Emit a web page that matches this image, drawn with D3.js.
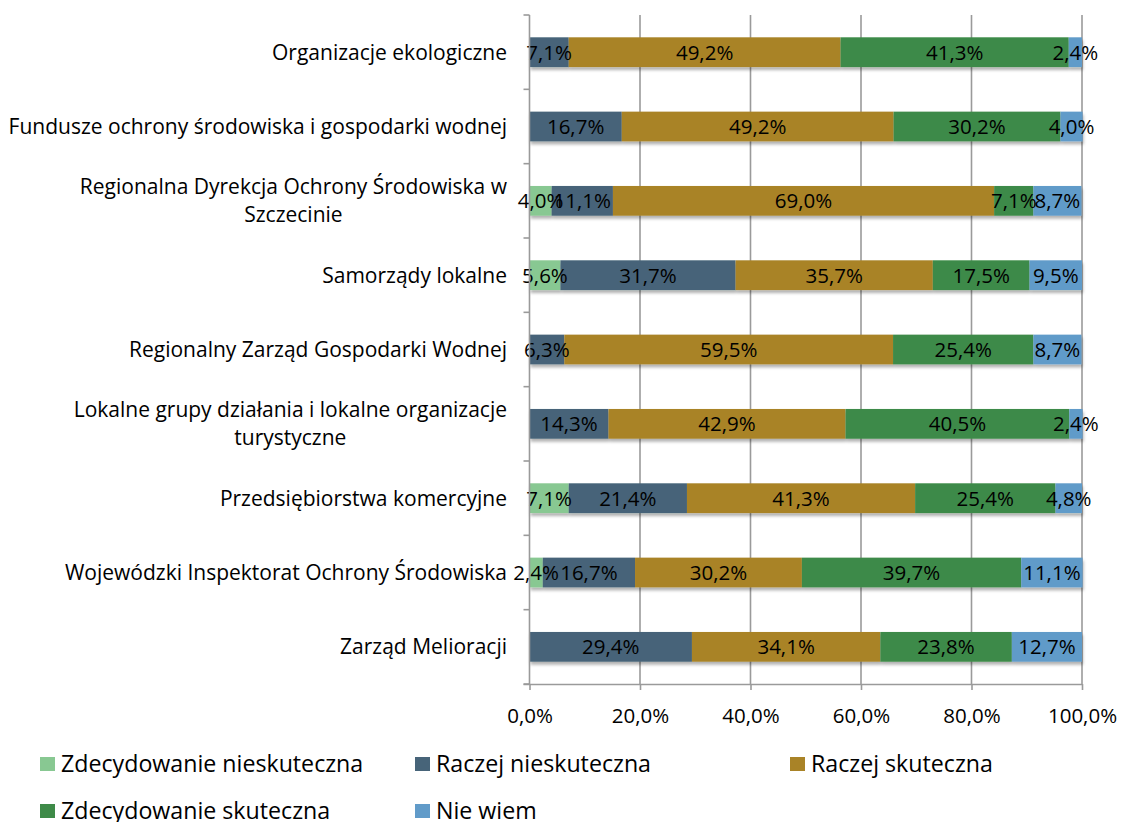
<!DOCTYPE html>
<html lang="pl">
<head>
<meta charset="utf-8">
<script src="https://cdn.jsdelivr.net/npm/d3@7"></script>
<style>
  html, body { margin: 0; padding: 0; background: #fff; }
  svg { display: block; font-family: "Open Sans", sans-serif; }
</style>
</head>
<body>
<svg id="chart" width="1121" height="822"></svg>
<script>
// Ocena skuteczności instytucji — odsetek odpowiedzi (%)
const categories = [
  "Organizacje ekologiczne",
  "Fundusze ochrony środowiska i gospodarki wodnej",
  "Regionalna Dyrekcja Ochrony Środowiska w Szczecinie",
  "Samorządy lokalne",
  "Regionalny Zarząd Gospodarki Wodnej",
  "Lokalne grupy działania i lokalne organizacje turystyczne",
  "Przedsiębiorstwa komercyjne",
  "Wojewódzki Inspektorat Ochrony Środowiska",
  "Zarząd Melioracji"
];

const seriesNames = [
  "Zdecydowanie nieskuteczna",
  "Raczej nieskuteczna",
  "Raczej skuteczna",
  "Zdecydowanie skuteczna",
  "Nie wiem"
];

const zdecydowanieNieskuteczna = [0, 0, 4.0, 5.6, 0, 0, 7.1, 2.4, 0];
const raczejNieskuteczna       = [7.1, 16.7, 11.1, 31.7, 6.3, 14.3, 21.4, 16.7, 29.4];
const raczejSkuteczna          = [49.2, 49.2, 69.0, 35.7, 59.5, 42.9, 41.3, 30.2, 34.1];
const zdecydowanieSkuteczna    = [41.3, 30.2, 7.1, 17.5, 25.4, 40.5, 25.4, 39.7, 23.8];
const nieWiem                  = [2.4, 4.0, 8.7, 9.5, 8.7, 2.4, 4.8, 11.1, 12.7];

const xTicks = [0, 20, 40, 60, 80, 100];

const colors = ["#88C892", "#476479", "#A98327", "#3E8A48", "#619BC9"];

// ---- assemble rows for the stack layout
const seriesValues = [zdecydowanieNieskuteczna, raczejNieskuteczna, raczejSkuteczna, zdecydowanieSkuteczna, nieWiem];
const rows = categories.map((c, i) => {
  const r = { category: c };
  seriesNames.forEach((s, k) => { r[s] = seriesValues[k][i]; });
  return r;
});
const stacked = d3.stack().keys(seriesNames)(rows);

const fmt = v => d3.format(".1f")(v).replace(".", ",") + "%";

const svg = d3.select("#chart");

const plot = { left: 529.5, right: 1082, top: 15, bottom: 684 };

const x = d3.scaleLinear().domain([0, 100]).range([plot.left, plot.right]);
const y = d3.scaleBand().domain(categories).range([plot.top, plot.bottom])
  .paddingInner(0.6).paddingOuter(0.3);

// soft shadow under the bars
const defs = svg.append("defs");
defs.append("filter").attr("id", "shadow")
  .attr("x", "-5%").attr("y", "-30%").attr("width", "110%").attr("height", "170%")
  .append("feDropShadow")
  .attr("dx", 1).attr("dy", 3).attr("stdDeviation", 1.8)
  .attr("flood-color", "#000").attr("flood-opacity", 0.3);

// vertical gridlines
svg.append("g").selectAll("line")
  .data(xTicks.filter(t => t > 0))
  .join("line")
  .attr("x1", d => x(d)).attr("x2", d => x(d))
  .attr("y1", plot.top).attr("y2", plot.bottom)
  .attr("stroke", "#9A9A9A").attr("stroke-width", 1.6);

// stacked bars
const barLayer = svg.append("g").attr("filter", "url(#shadow)");
stacked.forEach((layer, k) => {
  barLayer.append("g").attr("fill", colors[k])
    .selectAll("rect")
    .data(layer.filter(d => d[1] - d[0] > 0))
    .join("rect")
    .attr("x", d => x(d[0]))
    .attr("width", d => x(d[1]) - x(d[0]))
    .attr("y", d => y(d.data.category))
    .attr("height", y.bandwidth());
});

// value labels
const labelLayer = svg.append("g")
  .attr("font-size", 20.5).attr("fill", "#000").attr("text-anchor", "middle");
stacked.forEach(layer => {
  labelLayer.append("g").selectAll("text")
    .data(layer.filter(d => d[1] - d[0] > 0))
    .join("text")
    .attr("x", d => x((d[0] + d[1]) / 2))
    .attr("y", d => y(d.data.category) + y.bandwidth() / 2)
    .attr("dy", "0.36em")
    .text(d => fmt(d[1] - d[0]));
});

// x axis
const xAxis = svg.append("g")
  .attr("transform", `translate(0,${plot.bottom})`)
  .call(d3.axisBottom(x).tickValues(xTicks).tickFormat(fmt).tickSize(6).tickSizeOuter(0));
xAxis.select(".domain").attr("stroke", "#9A9A9A").attr("stroke-width", 1.6)
  .attr("d", `M${plot.left - 6},0.5H${plot.right}`);
xAxis.selectAll(".tick line").attr("stroke", "#9A9A9A").attr("stroke-width", 1.6);
xAxis.selectAll(".tick text").attr("font-size", 20.5).attr("fill", "#000")
  .attr("font-family", "'Open Sans', sans-serif").attr("y", 24).attr("dy", "0.71em");

// y axis line and boundary ticks
const yAxis = svg.append("g");
yAxis.append("line")
  .attr("x1", plot.left).attr("x2", plot.left)
  .attr("y1", plot.top).attr("y2", plot.bottom)
  .attr("stroke", "#9A9A9A").attr("stroke-width", 1.6);
const boundaries = d3.range(categories.length + 1).map(i => plot.top + i * y.step());
yAxis.selectAll("line.tick").data(boundaries).join("line").attr("class", "tick")
  .attr("x1", plot.left - 6).attr("x2", plot.left)
  .attr("y1", d => d).attr("y2", d => d)
  .attr("stroke", "#9A9A9A").attr("stroke-width", 1.6);

// category labels, wrapped and right-aligned as a block
const catFont = 21;
const lineGap = 28;
const labelRight = 507;
const wrapLimit = 505;
const measurer = svg.append("text").attr("font-size", catFont).attr("visibility", "hidden");
const measure = s => { measurer.text(s); return measurer.node().getComputedTextLength(); };

function wrap(label) {
  const words = label.split(" ");
  const lines = [];
  let line = words[0];
  for (let i = 1; i < words.length; i++) {
    const trial = line + " " + words[i];
    if (measure(trial) > wrapLimit) { lines.push(line); line = words[i]; }
    else line = trial;
  }
  lines.push(line);
  return lines;
}

const catLayer = svg.append("g").attr("font-size", catFont).attr("fill", "#000")
  .attr("text-anchor", "middle");
categories.forEach(c => {
  const lines = wrap(c);
  const blockW = d3.max(lines, measure);
  const cx = labelRight - blockW / 2;
  const cy = y(c) + y.bandwidth() / 2;
  const t = catLayer.append("text");
  lines.forEach((ln, i) => {
    t.append("tspan")
      .attr("x", cx)
      .attr("y", cy + (i - (lines.length - 1) / 2) * lineGap)
      .attr("dy", "0.36em")
      .text(ln);
  });
});
measurer.remove();

// legend
const legend = svg.append("g").attr("font-size", 23.2).attr("fill", "#000");
const legendItems = legend.selectAll("g").data(seriesNames).join("g")
  .attr("transform", (d, i) => `translate(${40 + (i % 3) * 375},${757 + Math.floor(i / 3) * 47})`);
legendItems.append("rect").attr("width", 15).attr("height", 14)
  .attr("fill", (d, i) => colors[i]);
legendItems.append("text").attr("x", 21).attr("y", 7).attr("dy", "0.35em").text(d => d);
</script>
</body>
</html>
